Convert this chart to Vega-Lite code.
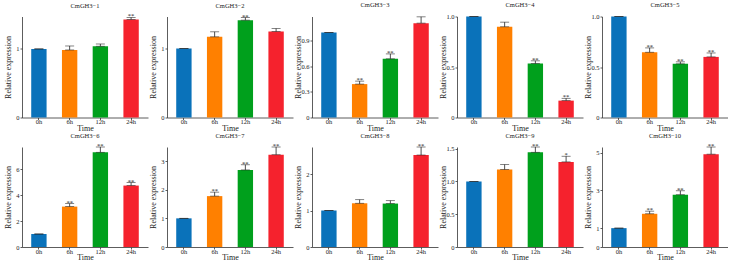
{
  "$schema": "https://vega.github.io/schema/vega-lite/v6.json",
  "padding": {"left": 4, "top": 1.5, "right": 0, "bottom": 0},
  "background": "white",
  "data": {"values": [
    {"g": 1, "t": "0h", "v": 1.0, "hi": 1.0, "s": ""},
    {"g": 1, "t": "6h", "v": 0.985, "hi": 1.043, "s": ""},
    {"g": 1, "t": "12h", "v": 1.039, "hi": 1.072, "s": ""},
    {"g": 1, "t": "24h", "v": 1.43, "hi": 1.459, "s": "**"},
    {"g": 2, "t": "0h", "v": 1.0, "hi": 1.0, "s": ""},
    {"g": 2, "t": "6h", "v": 1.169, "hi": 1.242, "s": ""},
    {"g": 2, "t": "12h", "v": 1.411, "hi": 1.449, "s": "**"},
    {"g": 2, "t": "24h", "v": 1.246, "hi": 1.29, "s": ""},
    {"g": 3, "t": "0h", "v": 1.0, "hi": 1.0, "s": ""},
    {"g": 3, "t": "6h", "v": 0.393, "hi": 0.428, "s": "**"},
    {"g": 3, "t": "12h", "v": 0.69, "hi": 0.748, "s": "**"},
    {"g": 3, "t": "24h", "v": 1.11, "hi": 1.184, "s": ""},
    {"g": 4, "t": "0h", "v": 1.0, "hi": 1.0, "s": ""},
    {"g": 4, "t": "6h", "v": 0.898, "hi": 0.944, "s": ""},
    {"g": 4, "t": "12h", "v": 0.534, "hi": 0.561, "s": "**"},
    {"g": 4, "t": "24h", "v": 0.167, "hi": 0.19, "s": "**"},
    {"g": 5, "t": "0h", "v": 1.0, "hi": 1.0, "s": ""},
    {"g": 5, "t": "6h", "v": 0.646, "hi": 0.689, "s": "**"},
    {"g": 5, "t": "12h", "v": 0.531, "hi": 0.551, "s": "**"},
    {"g": 5, "t": "24h", "v": 0.6, "hi": 0.639, "s": "**"},
    {"g": 6, "t": "0h", "v": 1.0, "hi": 1.0, "s": ""},
    {"g": 6, "t": "6h", "v": 3.11, "hi": 3.34, "s": "**"},
    {"g": 6, "t": "12h", "v": 7.29, "hi": 7.7, "s": "**"},
    {"g": 6, "t": "24h", "v": 4.73, "hi": 4.96, "s": "**"},
    {"g": 7, "t": "0h", "v": 1.0, "hi": 1.0, "s": ""},
    {"g": 7, "t": "6h", "v": 1.776, "hi": 1.915, "s": "**"},
    {"g": 7, "t": "12h", "v": 2.69, "hi": 2.87, "s": "**"},
    {"g": 7, "t": "24h", "v": 3.22, "hi": 3.49, "s": "**"},
    {"g": 8, "t": "0h", "v": 1.0, "hi": 1.0, "s": ""},
    {"g": 8, "t": "6h", "v": 1.198, "hi": 1.297, "s": ""},
    {"g": 8, "t": "12h", "v": 1.19, "hi": 1.27, "s": ""},
    {"g": 8, "t": "24h", "v": 2.52, "hi": 2.74, "s": "**"},
    {"g": 9, "t": "0h", "v": 1.0, "hi": 1.0, "s": ""},
    {"g": 9, "t": "6h", "v": 1.18, "hi": 1.258, "s": ""},
    {"g": 9, "t": "12h", "v": 1.444, "hi": 1.525, "s": "**"},
    {"g": 9, "t": "24h", "v": 1.298, "hi": 1.384, "s": "*"},
    {"g": 10, "t": "0h", "v": 1.0, "hi": 1.0, "s": ""},
    {"g": 10, "t": "6h", "v": 1.76, "hi": 1.9, "s": "**"},
    {"g": 10, "t": "12h", "v": 2.77, "hi": 2.98, "s": "**"},
    {"g": 10, "t": "24h", "v": 4.92, "hi": 5.3, "s": "**"}
  ]},
  "columns": 5,
  "spacing": {"column": 1, "row": -0.5},
  "concat": [
    {"title": "CmGH3−1", "width": 126, "height": 101, "transform": [{"filter": "datum.g == 1"}],
     "encoding": {"x": {"field": "t", "type": "nominal", "sort": ["0h", "6h", "12h", "24h"], "title": "Time", "scale": {"paddingInner": 0.5, "paddingOuter": 0.3}},
       "y": {"field": "v", "type": "quantitative", "scale": {"domain": [0, 1.473], "nice": false}, "axis": {"values": [0, 1], "title": "Relative expression"}}},
     "layer": [
       {"mark": {"type": "bar"}, "encoding": {"color": {"field": "t", "type": "nominal", "scale": {"domain": ["0h", "6h", "12h", "24h"], "range": ["#0A72BA", "#FF8000", "#00A01C", "#F5222D"]}, "legend": null}}},
       {"mark": {"type": "errorbar", "color": "#222", "thickness": 0.8, "ticks": {"size": 9, "color": "#222", "thickness": 0.8}}, "encoding": {"y2": {"field": "hi"}}},
       {"mark": {"type": "text", "fontSize": 6.5, "baseline": "alphabetic", "dy": 1, "color": "#222"}, "encoding": {"y": {"field": "hi", "type": "quantitative", "scale": {"domain": [0, 1.473], "nice": false}, "axis": {"values": [0, 1], "title": "Relative expression"}}, "text": {"field": "s"}}}
     ]},
    {"title": "CmGH3−2", "width": 126, "height": 101, "transform": [{"filter": "datum.g == 2"}],
     "encoding": {"x": {"field": "t", "type": "nominal", "sort": ["0h", "6h", "12h", "24h"], "title": "Time", "scale": {"paddingInner": 0.5, "paddingOuter": 0.3}},
       "y": {"field": "v", "type": "quantitative", "scale": {"domain": [0, 1.464], "nice": false}, "axis": {"values": [0, 1], "title": "Relative expression"}}},
     "layer": [
       {"mark": {"type": "bar"}, "encoding": {"color": {"field": "t", "type": "nominal", "scale": {"domain": ["0h", "6h", "12h", "24h"], "range": ["#0A72BA", "#FF8000", "#00A01C", "#F5222D"]}, "legend": null}}},
       {"mark": {"type": "errorbar", "color": "#222", "thickness": 0.8, "ticks": {"size": 9, "color": "#222", "thickness": 0.8}}, "encoding": {"y2": {"field": "hi"}}},
       {"mark": {"type": "text", "fontSize": 6.5, "baseline": "alphabetic", "dy": 1, "color": "#222"}, "encoding": {"y": {"field": "hi", "type": "quantitative", "scale": {"domain": [0, 1.464], "nice": false}, "axis": {"values": [0, 1], "title": "Relative expression"}}, "text": {"field": "s"}}}
     ]},
    {"title": "CmGH3−3", "width": 126, "height": 101, "transform": [{"filter": "datum.g == 3"}],
     "encoding": {"x": {"field": "t", "type": "nominal", "sort": ["0h", "6h", "12h", "24h"], "title": "Time", "scale": {"paddingInner": 0.5, "paddingOuter": 0.3}},
       "y": {"field": "v", "type": "quantitative", "scale": {"domain": [0, 1.188], "nice": false}, "axis": {"values": [0, 0.3, 0.6, 0.9], "labelExpr": "datum.value == 0 ? '0' : format(datum.value, '.1f')", "title": "Relative expression"}}},
     "layer": [
       {"mark": {"type": "bar"}, "encoding": {"color": {"field": "t", "type": "nominal", "scale": {"domain": ["0h", "6h", "12h", "24h"], "range": ["#0A72BA", "#FF8000", "#00A01C", "#F5222D"]}, "legend": null}}},
       {"mark": {"type": "errorbar", "color": "#222", "thickness": 0.8, "ticks": {"size": 9, "color": "#222", "thickness": 0.8}}, "encoding": {"y2": {"field": "hi"}}},
       {"mark": {"type": "text", "fontSize": 6.5, "baseline": "alphabetic", "dy": 1, "color": "#222"}, "encoding": {"y": {"field": "hi", "type": "quantitative", "scale": {"domain": [0, 1.188], "nice": false}, "axis": {"values": [0, 0.3, 0.6, 0.9], "labelExpr": "datum.value == 0 ? '0' : format(datum.value, '.1f')", "title": "Relative expression"}}, "text": {"field": "s"}}}
     ]},
    {"title": "CmGH3−4", "width": 126, "height": 101, "transform": [{"filter": "datum.g == 4"}],
     "encoding": {"x": {"field": "t", "type": "nominal", "sort": ["0h", "6h", "12h", "24h"], "title": "Time", "scale": {"paddingInner": 0.5, "paddingOuter": 0.3}},
       "y": {"field": "v", "type": "quantitative", "scale": {"domain": [0, 1.0], "nice": false}, "axis": {"values": [0, 0.5, 1], "labelExpr": "datum.value == 0 ? '0' : format(datum.value, '.1f')", "title": "Relative expression"}}},
     "layer": [
       {"mark": {"type": "bar"}, "encoding": {"color": {"field": "t", "type": "nominal", "scale": {"domain": ["0h", "6h", "12h", "24h"], "range": ["#0A72BA", "#FF8000", "#00A01C", "#F5222D"]}, "legend": null}}},
       {"mark": {"type": "errorbar", "color": "#222", "thickness": 0.8, "ticks": {"size": 9, "color": "#222", "thickness": 0.8}}, "encoding": {"y2": {"field": "hi"}}},
       {"mark": {"type": "text", "fontSize": 6.5, "baseline": "alphabetic", "dy": 1, "color": "#222"}, "encoding": {"y": {"field": "hi", "type": "quantitative", "scale": {"domain": [0, 1.0], "nice": false}, "axis": {"values": [0, 0.5, 1], "labelExpr": "datum.value == 0 ? '0' : format(datum.value, '.1f')", "title": "Relative expression"}}, "text": {"field": "s"}}}
     ]},
    {"title": "CmGH3−5", "width": 126, "height": 101, "transform": [{"filter": "datum.g == 5"}],
     "encoding": {"x": {"field": "t", "type": "nominal", "sort": ["0h", "6h", "12h", "24h"], "title": "Time", "scale": {"paddingInner": 0.5, "paddingOuter": 0.3}},
       "y": {"field": "v", "type": "quantitative", "scale": {"domain": [0, 1.0], "nice": false}, "axis": {"values": [0, 0.5, 1], "labelExpr": "datum.value == 0 ? '0' : format(datum.value, '.1f')", "title": "Relative expression"}}},
     "layer": [
       {"mark": {"type": "bar"}, "encoding": {"color": {"field": "t", "type": "nominal", "scale": {"domain": ["0h", "6h", "12h", "24h"], "range": ["#0A72BA", "#FF8000", "#00A01C", "#F5222D"]}, "legend": null}}},
       {"mark": {"type": "errorbar", "color": "#222", "thickness": 0.8, "ticks": {"size": 9, "color": "#222", "thickness": 0.8}}, "encoding": {"y2": {"field": "hi"}}},
       {"mark": {"type": "text", "fontSize": 6.5, "baseline": "alphabetic", "dy": 1, "color": "#222"}, "encoding": {"y": {"field": "hi", "type": "quantitative", "scale": {"domain": [0, 1.0], "nice": false}, "axis": {"values": [0, 0.5, 1], "labelExpr": "datum.value == 0 ? '0' : format(datum.value, '.1f')", "title": "Relative expression"}}, "text": {"field": "s"}}}
     ]},
    {"title": "CmGH3−6", "width": 126, "height": 100, "transform": [{"filter": "datum.g == 6"}],
     "encoding": {"x": {"field": "t", "type": "nominal", "sort": ["0h", "6h", "12h", "24h"], "title": "Time", "scale": {"paddingInner": 0.5, "paddingOuter": 0.3}},
       "y": {"field": "v", "type": "quantitative", "scale": {"domain": [0, 7.7], "nice": false}, "axis": {"values": [0, 2, 4, 6], "title": "Relative expression"}}},
     "layer": [
       {"mark": {"type": "bar"}, "encoding": {"color": {"field": "t", "type": "nominal", "scale": {"domain": ["0h", "6h", "12h", "24h"], "range": ["#0A72BA", "#FF8000", "#00A01C", "#F5222D"]}, "legend": null}}},
       {"mark": {"type": "errorbar", "color": "#222", "thickness": 0.8, "ticks": {"size": 9, "color": "#222", "thickness": 0.8}}, "encoding": {"y2": {"field": "hi"}}},
       {"mark": {"type": "text", "fontSize": 6.5, "baseline": "alphabetic", "dy": 1, "color": "#222"}, "encoding": {"y": {"field": "hi", "type": "quantitative", "scale": {"domain": [0, 7.7], "nice": false}, "axis": {"values": [0, 2, 4, 6], "title": "Relative expression"}}, "text": {"field": "s"}}}
     ]},
    {"title": "CmGH3−7", "width": 126, "height": 100, "transform": [{"filter": "datum.g == 7"}],
     "encoding": {"x": {"field": "t", "type": "nominal", "sort": ["0h", "6h", "12h", "24h"], "title": "Time", "scale": {"paddingInner": 0.5, "paddingOuter": 0.3}},
       "y": {"field": "v", "type": "quantitative", "scale": {"domain": [0, 3.49], "nice": false}, "axis": {"values": [0, 1, 2, 3], "title": "Relative expression"}}},
     "layer": [
       {"mark": {"type": "bar"}, "encoding": {"color": {"field": "t", "type": "nominal", "scale": {"domain": ["0h", "6h", "12h", "24h"], "range": ["#0A72BA", "#FF8000", "#00A01C", "#F5222D"]}, "legend": null}}},
       {"mark": {"type": "errorbar", "color": "#222", "thickness": 0.8, "ticks": {"size": 9, "color": "#222", "thickness": 0.8}}, "encoding": {"y2": {"field": "hi"}}},
       {"mark": {"type": "text", "fontSize": 6.5, "baseline": "alphabetic", "dy": 1, "color": "#222"}, "encoding": {"y": {"field": "hi", "type": "quantitative", "scale": {"domain": [0, 3.49], "nice": false}, "axis": {"values": [0, 1, 2, 3], "title": "Relative expression"}}, "text": {"field": "s"}}}
     ]},
    {"title": "CmGH3−8", "width": 126, "height": 100, "transform": [{"filter": "datum.g == 8"}],
     "encoding": {"x": {"field": "t", "type": "nominal", "sort": ["0h", "6h", "12h", "24h"], "title": "Time", "scale": {"paddingInner": 0.5, "paddingOuter": 0.3}},
       "y": {"field": "v", "type": "quantitative", "scale": {"domain": [0, 2.74], "nice": false}, "axis": {"values": [0, 1, 2], "title": "Relative expression"}}},
     "layer": [
       {"mark": {"type": "bar"}, "encoding": {"color": {"field": "t", "type": "nominal", "scale": {"domain": ["0h", "6h", "12h", "24h"], "range": ["#0A72BA", "#FF8000", "#00A01C", "#F5222D"]}, "legend": null}}},
       {"mark": {"type": "errorbar", "color": "#222", "thickness": 0.8, "ticks": {"size": 9, "color": "#222", "thickness": 0.8}}, "encoding": {"y2": {"field": "hi"}}},
       {"mark": {"type": "text", "fontSize": 6.5, "baseline": "alphabetic", "dy": 1, "color": "#222"}, "encoding": {"y": {"field": "hi", "type": "quantitative", "scale": {"domain": [0, 2.74], "nice": false}, "axis": {"values": [0, 1, 2], "title": "Relative expression"}}, "text": {"field": "s"}}}
     ]},
    {"title": "CmGH3−9", "width": 126, "height": 100, "transform": [{"filter": "datum.g == 9"}],
     "encoding": {"x": {"field": "t", "type": "nominal", "sort": ["0h", "6h", "12h", "24h"], "title": "Time", "scale": {"paddingInner": 0.5, "paddingOuter": 0.3}},
       "y": {"field": "v", "type": "quantitative", "scale": {"domain": [0, 1.525], "nice": false}, "axis": {"values": [0, 0.5, 1, 1.5], "labelExpr": "datum.value == 0 ? '0' : format(datum.value, '.1f')", "title": "Relative expression"}}},
     "layer": [
       {"mark": {"type": "bar"}, "encoding": {"color": {"field": "t", "type": "nominal", "scale": {"domain": ["0h", "6h", "12h", "24h"], "range": ["#0A72BA", "#FF8000", "#00A01C", "#F5222D"]}, "legend": null}}},
       {"mark": {"type": "errorbar", "color": "#222", "thickness": 0.8, "ticks": {"size": 9, "color": "#222", "thickness": 0.8}}, "encoding": {"y2": {"field": "hi"}}},
       {"mark": {"type": "text", "fontSize": 6.5, "baseline": "alphabetic", "dy": 1, "color": "#222"}, "encoding": {"y": {"field": "hi", "type": "quantitative", "scale": {"domain": [0, 1.525], "nice": false}, "axis": {"values": [0, 0.5, 1, 1.5], "labelExpr": "datum.value == 0 ? '0' : format(datum.value, '.1f')", "title": "Relative expression"}}, "text": {"field": "s"}}}
     ]},
    {"title": "CmGH3−10", "width": 126, "height": 100, "transform": [{"filter": "datum.g == 10"}],
     "encoding": {"x": {"field": "t", "type": "nominal", "sort": ["0h", "6h", "12h", "24h"], "title": "Time", "scale": {"paddingInner": 0.5, "paddingOuter": 0.3}},
       "y": {"field": "v", "type": "quantitative", "scale": {"domain": [0, 5.3], "nice": false}, "axis": {"values": [0, 1, 3, 5], "title": "Relative expression"}}},
     "layer": [
       {"mark": {"type": "bar"}, "encoding": {"color": {"field": "t", "type": "nominal", "scale": {"domain": ["0h", "6h", "12h", "24h"], "range": ["#0A72BA", "#FF8000", "#00A01C", "#F5222D"]}, "legend": null}}},
       {"mark": {"type": "errorbar", "color": "#222", "thickness": 0.8, "ticks": {"size": 9, "color": "#222", "thickness": 0.8}}, "encoding": {"y2": {"field": "hi"}}},
       {"mark": {"type": "text", "fontSize": 6.5, "baseline": "alphabetic", "dy": 1, "color": "#222"}, "encoding": {"y": {"field": "hi", "type": "quantitative", "scale": {"domain": [0, 5.3], "nice": false}, "axis": {"values": [0, 1, 3, 5], "title": "Relative expression"}}, "text": {"field": "s"}}}
     ]}
  ],
  "config": {
    "font": "Liberation Serif",
    "view": {"stroke": null},
    "axis": {"labelFont": "Liberation Serif", "labelFontSize": 6.5, "titleFont": "Liberation Serif", "titleFontSize": 8, "titleFontWeight": "normal", "grid": false, "domainColor": "#333", "tickColor": "#333", "labelColor": "#222", "titleColor": "#222", "tickSize": 2, "domainWidth": 0.8, "tickWidth": 0.8},
    "axisY": {"minExtent": 9, "maxExtent": 9, "titlePadding": 1, "labelPadding": 1},
    "axisX": {"labelAngle": 0, "titlePadding": -1, "labelPadding": -1},
    "title": {"font": "Liberation Serif", "fontSize": 6.5, "fontWeight": "normal", "offset": 4, "frame": "group", "color": "#222"}
  }
}
